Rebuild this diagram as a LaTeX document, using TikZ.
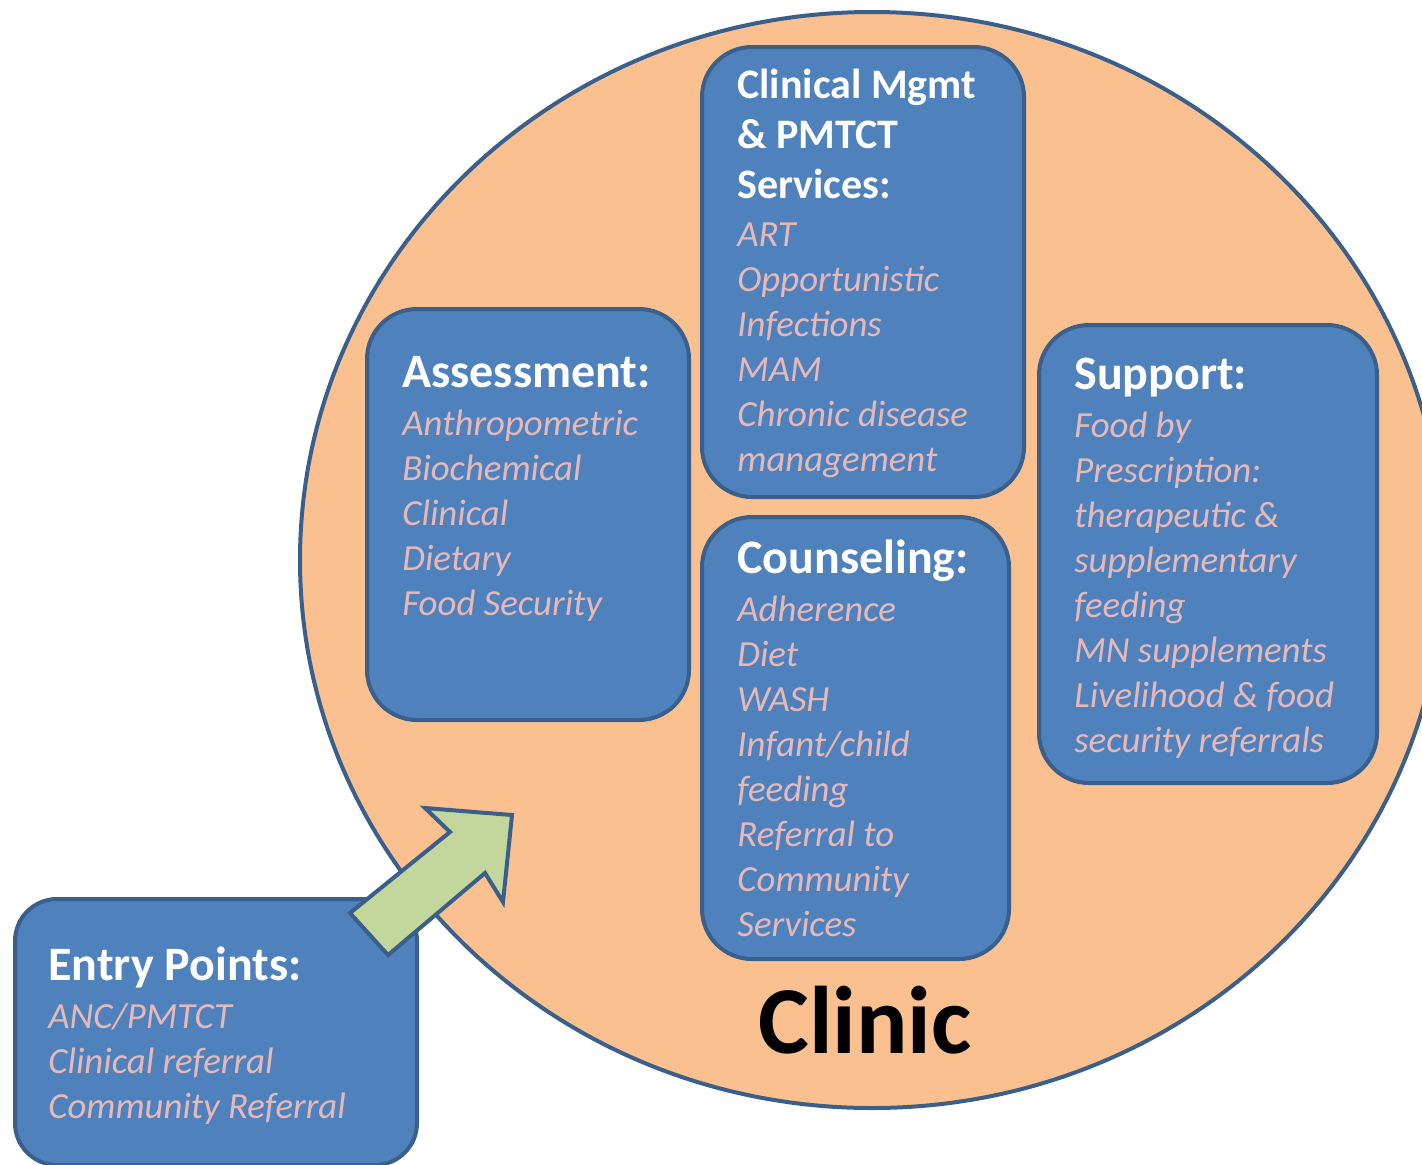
\documentclass[tikz,border=0pt]{standalone}
\usepackage{fontspec}
\setmainfont{Carlito}
\usepackage{tikz}

\definecolor{boxblue}{HTML}{4F81BD}
\definecolor{boxline}{HTML}{3A5F8B}
\definecolor{clinicpeach}{HTML}{FAC090}
\definecolor{itempink}{HTML}{E6B9B8}
\definecolor{arrowgreen}{HTML}{C3D69B}

\newcommand{\headstyle}{\fontsize{24}{25}\selectfont\bfseries}
\newcommand{\itemstyle}{\fontsize{18.4}{22.5}\selectfont\mdseries\itshape\leavevmode\color{itempink}}

\begin{document}
\begin{tikzpicture}[x=0.5pt, y=-0.5pt,
    servicebox/.style={draw=boxline, line width=2pt, fill=boxblue, rounded corners=25pt,
      inner sep=0pt, anchor=north west},
    boxtext/.style={anchor=base west, inner sep=0pt, align=left, text width=170pt,
      text=white, font=\headstyle}]
    % Fix the page size
    \useasboundingbox (0,0) rectangle (1422,1164);

    % Draw the clinic
    \draw[draw=boxline, line width=2pt, fill=clinicpeach] (872,560) ellipse [x radius=572, y radius=548];
    \node[anchor=base, inner sep=0pt, font=\fontsize{48}{50}\selectfont\bfseries] (clinic) at (865,1053) {Clinic};

    % Draw the service boxes
    \node[servicebox, minimum width=161pt, minimum height=205.5pt] (assess) at (365,307) {};
    \node[servicebox, minimum width=161pt, minimum height=225pt] (clinical) at (700,45) {};
    \node[servicebox, minimum width=153.5pt, minimum height=221pt] (counsel) at (700,515) {};
    \node[servicebox, minimum width=169pt, minimum height=229pt] (support) at (1037,323) {};
    \node[servicebox, minimum width=201pt, minimum height=133pt, rounded corners=21pt] (entry) at (13,897) {};

    % Add the box texts
    \node[boxtext] (assessT) at (402,387) {\spaceskip=0pt Assessment:\par\vspace{1.5pt}
      {\itemstyle Anthropometric\\Biochemical\\Clinical\\Dietary\\Food Security\par}};
    \node[boxtext, font=\fontsize{21}{25}\selectfont\bfseries] (clinicalT) at (737,98) {\spaceskip=0pt Clinical Mgmt\\\& PMTCT\\Services:\par\vspace{1.5pt}
      {\itemstyle ART\\Opportunistic\\Infections\\MAM\\Chronic disease\\management\par}};
    \node[boxtext] (counselT) at (737,573) {\spaceskip=0pt Counseling:\par\vspace{1.5pt}
      {\itemstyle Adherence\\Diet\\WASH\\Infant/child\\feeding\\Referral to\\Community\\Services\par}};
    \node[boxtext] (supportT) at (1074,389) {\spaceskip=0pt Support:\par\vspace{1.5pt}
      {\itemstyle Food by\\Prescription:\\therapeutic \&\\supplementary\\feeding\\MN supplements\\Livelihood \& food\\security referrals\par}};
    \node[boxtext] (entryT) at (48,980) {\spaceskip=0pt Entry Points:\par\vspace{1.5pt}
      {\itemstyle ANC/PMTCT\\Clinical referral\\Community Referral\par}};

    % Draw the entry arrow
    \draw[draw=boxline, line width=2pt, fill=arrowgreen, line join=miter]
      (350,913) -- (450,832) -- (425,808) -- (512,815) -- (503,902) -- (485,873) -- (388,955) -- cycle;
\end{tikzpicture}
\end{document}
